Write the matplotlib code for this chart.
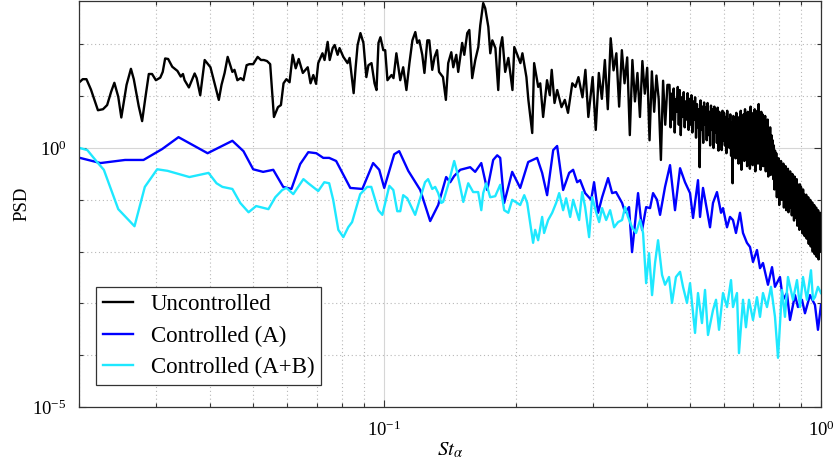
import numpy as np
import matplotlib
matplotlib.use('Agg')
import matplotlib.pyplot as plt
from matplotlib.ticker import FixedLocator, NullFormatter

# Strouhal number and log10(PSD)
st_unc_low = [0.0201, 0.0204, 0.0208, 0.0213, 0.0221, 0.0227, 0.0232, 0.0237, 0.0241, 0.0246,
              0.0250, 0.0257, 0.0263, 0.0267, 0.0274, 0.0279, 0.0284, 0.0289, 0.0294, 0.0300,
              0.0307, 0.0311, 0.0315, 0.0320, 0.0327, 0.0336, 0.0342, 0.0346, 0.0349, 0.0357,
              0.0368, 0.0372, 0.0379, 0.0388, 0.0400, 0.0407, 0.0418, 0.0424, 0.0431, 0.0438,
              0.0449, 0.0454, 0.0461, 0.0469, 0.0476, 0.0484, 0.0491, 0.0501, 0.0513, 0.0522,
              0.0530, 0.0539, 0.0548, 0.0559, 0.0571, 0.0580, 0.0588, 0.0597, 0.0607, 0.0617,
              0.0627, 0.0637, 0.0651, 0.0668, 0.0678, 0.0688, 0.0698, 0.0706, 0.0722, 0.0730,
              0.0742, 0.0750, 0.0762, 0.0770, 0.0782, 0.0790, 0.0806, 0.0824, 0.0833, 0.0851,
              0.0860, 0.0869, 0.0882, 0.0896, 0.0910, 0.0920, 0.0935, 0.0950, 0.0960, 0.0970,
              0.0980, 0.0995, 0.1005, 0.1017, 0.1039, 0.1050, 0.1066, 0.1088, 0.1105, 0.1124,
              0.1142, 0.1160, 0.1178, 0.1190, 0.1203, 0.1222, 0.1236, 0.1255, 0.1268, 0.1288,
              0.1304, 0.1321, 0.1335, 0.1363, 0.1384, 0.1401, 0.1424, 0.1439, 0.1462, 0.1477,
              0.1508, 0.1525, 0.1549, 0.1566, 0.1590, 0.1616, 0.1642, 0.1659, 0.1685, 0.1703,
              0.1731, 0.1749, 0.1768, 0.1797, 0.1824, 0.1843, 0.1863, 0.1892, 0.1924, 0.1966,
              0.1985, 0.2017, 0.2050, 0.2072, 0.2116, 0.2138, 0.2182, 0.2204, 0.2252, 0.2276,
              0.2311, 0.2359, 0.2394, 0.2418, 0.2454, 0.2489, 0.2546, 0.2591, 0.2635, 0.2695,
              0.2740, 0.2784, 0.2844, 0.2888, 0.2933,
              0.300, 0.305, 0.310, 0.315, 0.320, 0.325, 0.330, 0.335, 0.340, 0.345,
              0.350, 0.355, 0.360, 0.365, 0.370, 0.375, 0.380, 0.385, 0.390, 0.395,
              0.400, 0.405, 0.410, 0.415, 0.420, 0.425, 0.430, 0.435, 0.440, 0.445]
lg_unc_low = [1.28, 1.33, 1.33, 1.13, 0.73, 0.75, 0.83, 1.09, 1.26, 0.99,
              0.59, 1.22, 1.53, 1.33, 0.81, 0.52, 0.99, 1.43, 1.43, 1.31,
              1.36, 1.47, 1.73, 1.72, 1.57, 1.49, 1.38, 1.43, 1.31, 1.17,
              1.44, 1.35, 1.02, 1.70, 1.56, 1.31, 0.93, 1.22, 1.45, 1.76,
              1.47, 1.51, 1.31, 1.35, 1.31, 1.60, 1.62, 1.62, 1.76, 1.70,
              1.70, 1.68, 1.62, 0.60, 0.79, 0.83, 1.25, 1.33, 1.27, 1.80,
              1.54, 1.72, 1.45, 1.56, 1.25, 1.41, 1.24, 1.64, 1.83, 1.70,
              2.05, 1.70, 1.93, 1.99, 1.80, 1.93, 1.76, 1.64, 1.74, 1.06,
              1.56, 1.99, 2.22, 2.03, 1.37, 1.60, 1.64, 1.25, 1.12, 2.03,
              2.14, 1.89, 1.89, 1.31, 1.41, 1.35, 1.83, 1.31, 1.56, 1.12,
              1.64, 2.08, 2.24, 2.03, 2.08, 1.80, 1.45, 2.08, 2.08, 1.51,
              1.76, 1.89, 1.47, 1.37, 0.93, 1.64, 1.85, 1.56, 1.80, 1.47,
              2.03, 1.80, 2.22, 2.28, 1.35, 1.70, 1.95, 2.37, 2.80, 2.70,
              2.34, 1.83, 2.08, 1.93, 1.12, 1.93, 2.14, 1.47, 1.74, 1.12,
              1.95, 1.80, 1.64, 1.83, 1.37, 0.93, 0.29, 1.64, 1.18, 1.25,
              0.60, 1.31, 1.02, 1.51, 0.87, 1.12, 0.79, 0.93, 0.68, 1.25,
              1.18, 1.37, 0.98, 1.51, 0.60,
              1.37, 0.35, 1.45, 0.95, 1.70, 0.75, 2.12, 1.50, 1.83, 0.80,
              1.89, 1.25, 1.75, 0.25, 1.70, 0.90, 1.45, 0.60, 1.68, 1.05,
              1.55, 0.15, 1.48, 0.70, 1.40, 0.95, -0.23, 1.30, 0.45, 1.22]

st_unc_high = [0.4500, 0.4525, 0.4550, 0.4575, 0.4600, 0.4625, 0.4650, 0.4675, 0.4700, 0.4725,
               0.4750, 0.4775, 0.4800, 0.4825, 0.4850, 0.4875, 0.4900, 0.4925, 0.4950, 0.4975,
               0.5000, 0.5025, 0.5050, 0.5075, 0.5100, 0.5125, 0.5150, 0.5175, 0.5200, 0.5225,
               0.5250, 0.5275, 0.5300, 0.5325, 0.5350, 0.5375, 0.5400, 0.5425, 0.5450, 0.5475,
               0.5500, 0.5525, 0.5550, 0.5575, 0.5600, 0.5625, 0.5650, 0.5675, 0.5700, 0.5725,
               0.5750, 0.5775, 0.5800, 0.5825, 0.5850, 0.5875, 0.5900, 0.5925, 0.5950, 0.5975,
               0.6000, 0.6025, 0.6050, 0.6075, 0.6100, 0.6125, 0.6150, 0.6175, 0.6200, 0.6225,
               0.6250, 0.6275, 0.6300, 0.6325, 0.6350, 0.6375, 0.6400, 0.6425, 0.6450, 0.6475,
               0.6500, 0.6525, 0.6550, 0.6575, 0.6600, 0.6625, 0.6650, 0.6675, 0.6700, 0.6725,
               0.6750, 0.6775, 0.6800, 0.6825, 0.6850, 0.6875, 0.6900, 0.6925, 0.6950, 0.6975,
               0.7000, 0.7025, 0.7050, 0.7075, 0.7100, 0.7125, 0.7150, 0.7175, 0.7200, 0.7225,
               0.7250, 0.7275, 0.7300, 0.7325, 0.7350, 0.7375, 0.7400, 0.7425, 0.7450, 0.7475,
               0.7500, 0.7525, 0.7550, 0.7575, 0.7600, 0.7625, 0.7650, 0.7675, 0.7700, 0.7725,
               0.7750, 0.7775, 0.7800, 0.7825, 0.7850, 0.7875, 0.7900, 0.7925, 0.7950, 0.7975,
               0.8000, 0.8025, 0.8050, 0.8075, 0.8100, 0.8125, 0.8150, 0.8175, 0.8200, 0.8225,
               0.8250, 0.8275, 0.8300, 0.8325, 0.8350, 0.8375, 0.8400, 0.8425, 0.8450, 0.8475,
               0.8500, 0.8525, 0.8550, 0.8575, 0.8600, 0.8625, 0.8650, 0.8675, 0.8700, 0.8725,
               0.8750, 0.8775, 0.8800, 0.8825, 0.8850, 0.8875, 0.8900, 0.8925, 0.8950, 0.8975,
               0.9000, 0.9025, 0.9050, 0.9075, 0.9100, 0.9125, 0.9150, 0.9175, 0.9200, 0.9225,
               0.9250, 0.9275, 0.9300, 0.9325, 0.9350, 0.9375, 0.9400, 0.9425, 0.9450, 0.9475,
               0.9500, 0.9525, 0.9550, 0.9575, 0.9600, 0.9625, 0.9650, 0.9675, 0.9700, 0.9725,
               0.9750, 0.9775, 0.9800, 0.9825, 0.9850, 0.9875, 0.9900, 0.9925, 0.9950, 0.9975,
               1.0000]
lg_unc_high = [1.22, 0.40, 1.05, 0.55, 1.15, 0.30, 0.95, 0.70, 1.18, 0.45,
               1.12, 0.25, 0.98, 0.60, 1.08, 0.40, 0.90, 0.55, 1.06, 0.35,
               0.95, 0.45, 1.02, 0.30, 0.90, 0.55, 0.98, 0.20, 0.85, 0.40,
               0.75, -0.37, 0.92, 0.35, 0.80, 0.10, 0.88, 0.45, 0.78, 0.15,
               0.87, 0.25, 0.70, 0.05, 0.82, 0.35, 0.75, 0.00, 0.80, 0.30,
               0.65, 0.10, 0.78, -0.05, 0.70, 0.25, 0.62, -0.04, 0.72, 0.15,
               0.68, 0.05, 0.60, -0.10, 0.72, 0.20, 0.55, 0.00, 0.65, -0.15,
               0.50, -0.68, 0.62, 0.10, 0.55, -0.20, 0.68, 0.05, 0.50, -0.30,
               0.60, -0.10, 0.72, -0.42, 0.55, 0.00, 0.65, -0.25, 0.75, -0.05,
               0.58, -0.35, 0.70, -0.10, 0.62, -0.40, 0.80, 0.00, 0.55, -0.33,
               0.68, -0.15, 0.75, -0.45, 0.60, -0.05, 0.72, -0.30, 0.85, -0.20,
               0.60, -0.42, 0.70, -0.10, 0.65, -0.35, 0.55, -0.15, 0.62, -0.45,
               0.45, -0.30, 0.55, -0.55, 0.35, -0.20, 0.40, -0.52, 0.25, -0.40,
               0.15, -0.60, 0.05, -0.80, -0.05, -0.55, -0.10, -0.95, -0.20, -0.70,
               -0.20, -1.10, -0.30, -0.75, -0.25, -1.00, -0.35, -0.85, -0.30, -1.15,
               -0.40, -0.90, -0.35, -1.20, -0.45, -0.95, -0.40, -1.24, -0.50, -1.05,
               -0.45, -1.15, -0.55, -1.30, -0.50, -1.05, -0.60, -1.40, -0.55, -1.20,
               -0.65, -1.35, -0.60, -1.50, -0.70, -1.25, -0.75, -1.58, -0.70, -1.40,
               -0.75, -1.45, -0.85, -1.65, -0.80, -1.40, -0.90, -1.70, -0.95, -1.55,
               -0.90, -1.75, -1.00, -1.60, -0.95, -1.85, -1.05, -1.65, -1.00, -1.90,
               -1.10, -1.75, -1.05, -2.00, -1.15, -1.80, -1.10, -2.05, -1.20, -1.85,
               -1.15, -2.10, -1.25, -1.90, -1.20, -2.15, -1.30, -1.80, -1.25, -2.00,
               -1.45]

st_a = [0.0201, 0.0224, 0.0255, 0.0281, 0.0310, 0.0338, 0.0394, 0.0449, 0.0476, 0.0501,
        0.0528, 0.0557, 0.0587, 0.0613, 0.0642, 0.0670, 0.0699, 0.0725, 0.0748, 0.0776,
        0.0836, 0.0891, 0.0943, 0.0974, 0.1000, 0.1054, 0.1082, 0.1135, 0.1209, 0.1274,
        0.1329, 0.1386, 0.1416, 0.1446, 0.1493, 0.1573, 0.1615, 0.1668, 0.1721, 0.1776,
        0.1814, 0.1843, 0.1882, 0.1963, 0.2048, 0.2136, 0.2239, 0.2299, 0.2360, 0.2437,
        0.2488, 0.2568, 0.2651, 0.2707, 0.2765, 0.2809, 0.2884, 0.2977, 0.3023, 0.3088,
        0.3154, 0.3255, 0.3325, 0.3394, 0.3504, 0.3560, 0.3635, 0.3693, 0.3732, 0.3812,
        0.3894, 0.3978, 0.4061, 0.4126, 0.4213, 0.4281, 0.4395, 0.4512, 0.4632, 0.4757,
        0.4883, 0.5014, 0.5094, 0.5229, 0.5285, 0.5369, 0.5483, 0.5571, 0.5659, 0.5779,
        0.5904, 0.5966, 0.6093, 0.6190, 0.6288, 0.6388, 0.6525, 0.6629, 0.6768, 0.6879,
        0.6988, 0.7136, 0.7251, 0.7366, 0.7562, 0.7725, 0.7847, 0.8056, 0.8184, 0.8358,
        0.8493, 0.8720, 0.8858, 0.9047, 0.9191, 0.9437, 0.9688, 0.9843, 1.0]
lg_a = [-0.19, -0.29, -0.23, -0.23, -0.02, 0.21, -0.10, 0.14, -0.06, -0.41,
        -0.46, -0.42, -0.75, -0.79, -0.31, -0.08, -0.10, -0.19, -0.19, -0.25,
        -0.77, -0.79, -0.29, -0.42, -0.77, -0.12, -0.06, -0.44, -0.81, -1.41,
        -1.10, -0.56, -0.66, -0.54, -0.42, -0.37, -0.46, -0.29, -0.81, -0.23,
        -0.14, -0.19, -1.06, -0.46, -0.77, -0.27, -0.19, -0.48, -0.91, -0.04,
        0.04, -0.81, -0.48, -0.42, -0.66, -0.62, -0.87, -1.00, -0.66, -1.25,
        -0.95, -0.58, -0.87, -0.85, -1.06, -1.24, -1.14, -2.01, -1.64, -0.87,
        -1.58, -1.14, -1.16, -0.87, -1.00, -1.29, -0.75, -0.33, -1.20, -0.39,
        -0.66, -0.87, -1.35, -0.62, -1.33, -0.77, -1.20, -1.53, -1.06, -0.85,
        -1.25, -1.16, -1.53, -1.33, -1.39, -1.64, -1.25, -1.64, -1.83, -1.91,
        -2.20, -1.97, -2.32, -2.22, -2.64, -2.30, -2.68, -2.49, -2.93, -2.80,
        -3.32, -2.84, -3.07, -2.93, -3.19, -2.84, -3.03, -3.51, -3.03]

st_ab = [0.0201, 0.0209, 0.0220, 0.0228, 0.0246, 0.0268, 0.0283, 0.0302, 0.0319, 0.0358,
         0.0396, 0.0413, 0.0426, 0.0449, 0.0468, 0.0489, 0.0509, 0.0543, 0.0563, 0.0584,
         0.0597, 0.0619, 0.0653, 0.0670, 0.0706, 0.0729, 0.0748, 0.0764, 0.0785, 0.0806,
         0.0827, 0.0844, 0.0881, 0.0914, 0.0934, 0.0969, 0.0990, 0.1027, 0.1049, 0.1071,
         0.1088, 0.1105, 0.1129, 0.1177, 0.1240, 0.1260, 0.1288, 0.1308, 0.1329, 0.1350,
         0.1364, 0.1401, 0.1446, 0.1470, 0.1517, 0.1557, 0.1598, 0.1641, 0.1668, 0.1685,
         0.1712, 0.1748, 0.1795, 0.1843, 0.1882, 0.1923, 0.1963, 0.2015, 0.2048, 0.2092,
         0.2125, 0.2192, 0.2216, 0.2251, 0.2299, 0.2323, 0.2373, 0.2424, 0.2475, 0.2515,
         0.2568, 0.2609, 0.2665, 0.2707, 0.2794, 0.2839, 0.2884, 0.2945, 0.2993, 0.3057,
         0.3105, 0.3154, 0.3222, 0.3290, 0.3360, 0.3431, 0.3504, 0.3560, 0.3616, 0.3693,
         0.3772, 0.3853, 0.3914, 0.3978, 0.4040, 0.4104, 0.4169, 0.4236, 0.4326, 0.4395,
         0.4488, 0.4559, 0.4655, 0.4757, 0.4832, 0.4934, 0.5014, 0.5148, 0.5229, 0.5340,
         0.5426, 0.5512, 0.5659, 0.5750, 0.5842, 0.5966, 0.6093, 0.6223, 0.6288, 0.6422,
         0.6490, 0.6629, 0.6733, 0.6842, 0.6988, 0.7136, 0.7251, 0.7366, 0.7523, 0.7684,
         0.7847, 0.7973, 0.8141, 0.8271, 0.8403, 0.8628, 0.8812, 0.8953, 0.9095, 0.9287,
         0.9487, 0.9588, 0.9688, 0.9843, 1.0]
lg_ab = [0.00, -0.04, -0.27, -0.42, -1.18, -1.51, -0.75, -0.41, -0.44, -0.56,
         -0.48, -0.68, -0.75, -0.79, -1.06, -1.24, -1.12, -1.18, -0.95, -0.81,
         -0.77, -0.89, -0.60, -0.68, -0.83, -0.66, -0.68, -1.00, -1.58, -1.72,
         -1.53, -1.43, -0.89, -0.75, -0.75, -1.20, -1.29, -0.73, -0.81, -1.22,
         -1.22, -0.91, -0.97, -1.29, -0.66, -0.60, -0.79, -0.75, -0.87, -1.06,
         -1.04, -0.71, -0.25, -0.48, -1.04, -0.68, -0.85, -0.85, -1.20, -0.87,
         -0.68, -0.95, -0.93, -0.71, -1.20, -1.25, -1.00, -1.06, -1.10, -0.91,
         -1.06, -1.83, -1.58, -1.78, -1.33, -1.64, -1.39, -1.25, -1.06, -0.87,
         -1.20, -0.97, -1.33, -1.00, -1.39, -0.85, -1.14, -1.72, -0.95, -1.24,
         -1.43, -1.16, -1.39, -1.20, -1.53, -1.43, -1.39, -1.14, -1.33, -1.53,
         -1.64, -1.39, -1.64, -2.61, -2.03, -2.84, -2.22, -1.78, -2.45, -2.64,
         -2.49, -2.99, -2.49, -2.39, -2.68, -2.99, -2.61, -3.57, -2.80, -3.38,
         -2.74, -3.61, -3.13, -2.93, -3.51, -2.80, -3.07, -2.55, -3.07, -2.80,
         -3.96, -2.93, -3.46, -2.93, -3.32, -2.88, -3.26, -2.80, -3.07, -2.68,
         -3.26, -4.05, -2.74, -3.26, -2.49, -2.93, -2.55, -3.07, -2.49, -2.93,
         -2.36, -2.93, -2.88, -2.68, -2.80]

labels = ['Uncontrolled', 'Controlled (A)', 'Controlled (A+B)']
colors = ['black', '#0000ff', '#1ee8ff']

plt.rcParams['font.family'] = 'serif'
plt.rcParams['font.serif'] = ['Liberation Serif', 'DejaVu Serif']
plt.rcParams['mathtext.fontset'] = 'stix'

st_unc = np.array(st_unc_low + st_unc_high)
psd_unc = 10.0 ** np.array(lg_unc_low + lg_unc_high)

fig = plt.figure(figsize=(8.35, 4.63), dpi=100)
ax = fig.add_axes([0.0946, 0.1210, 0.8886, 0.8769])

ax.plot(st_unc, psd_unc, color=colors[0], lw=1.7, label=labels[0])
ax.plot(st_a, 10.0 ** np.array(lg_a), color=colors[1], lw=1.7, label=labels[1])
ax.plot(st_ab, 10.0 ** np.array(lg_ab), color=colors[2], lw=1.7, label=labels[2])

ax.set_xscale('log')
ax.set_yscale('log')
ax.set_xlim(0.02, 1.0)
ax.set_ylim(1e-5, 10 ** 2.84)

ax.xaxis.set_major_locator(FixedLocator([0.1, 1.0]))
ax.xaxis.set_minor_locator(FixedLocator([0.02, 0.03, 0.04, 0.05, 0.06, 0.07, 0.08, 0.09,
                                         0.2, 0.3, 0.4, 0.5, 0.6, 0.7, 0.8, 0.9]))
ax.set_xticklabels([r'$\mathdefault{10^{-1}}$', r'$\mathdefault{10^{0}}$'])
ax.xaxis.set_minor_formatter(NullFormatter())
ax.yaxis.set_major_locator(FixedLocator([1e-5, 1e0]))
ax.yaxis.set_minor_locator(FixedLocator([1e-4, 1e-3, 1e-2, 1e-1, 1e1, 1e2]))
ax.set_yticklabels([r'$\mathdefault{10^{-5}}$', r'$\mathdefault{10^{0}}$'])
ax.yaxis.set_minor_formatter(NullFormatter())

ax.grid(which='major', color='#d6d6d6', lw=0.8, ls='-')
ax.grid(which='minor', color='#b8b8b8', lw=0.8, ls=(0, (1, 2.5)))
ax.set_axisbelow(True)
ax.tick_params(which='both', direction='in', top=True, right=True,
               color='#333333', labelsize=13.5)
ax.tick_params(axis='x', which='both', pad=10)
ax.tick_params(axis='y', which='both', pad=9)
ax.tick_params(which='major', length=5, width=0.8)
ax.tick_params(which='minor', length=3, width=0.8)
for sp in ax.spines.values():
    sp.set_color('#333333')
    sp.set_linewidth(0.9)

ax.set_xlabel(r'$St_{\alpha}$', fontsize=15, labelpad=0)
ax.set_ylabel('PSD', fontsize=13.5, labelpad=1)

leg = ax.legend(loc='lower left', bbox_to_anchor=(0.0229, 0.054), borderaxespad=0,
                fontsize=16.5, fancybox=False, framealpha=1, edgecolor='#333333',
                handlelength=1.3, handletextpad=0.8, labelspacing=0.45, borderpad=0.3)
leg.get_frame().set_linewidth(0.9)

fig.savefig('out.png', dpi=100)
